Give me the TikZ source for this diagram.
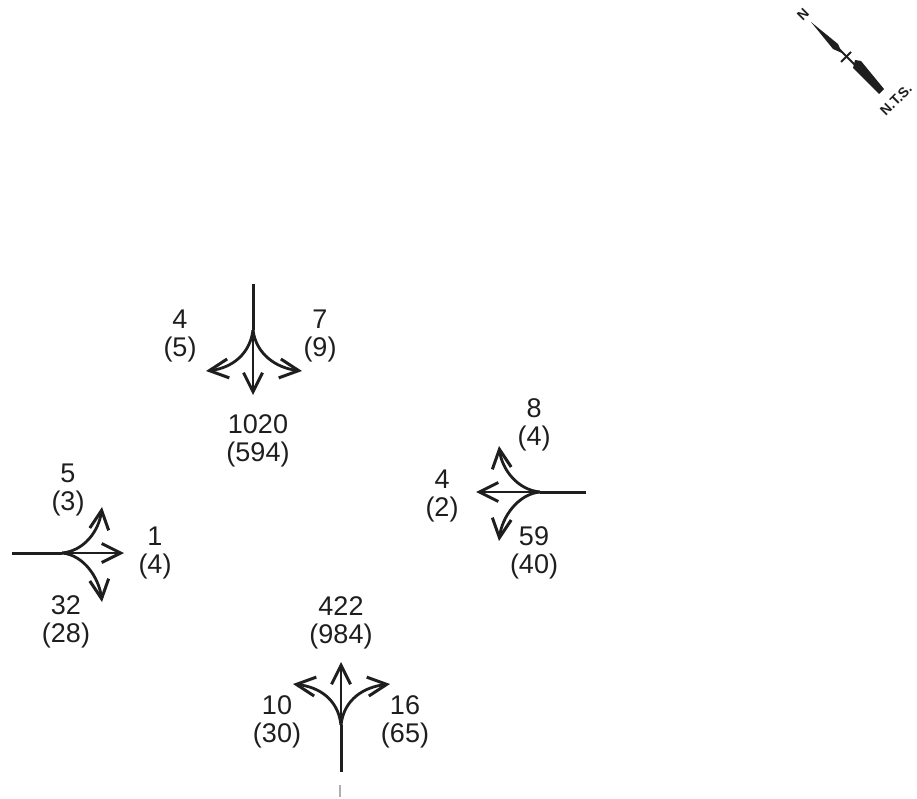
\documentclass[tikz,border=0pt]{standalone}
\usepackage{fontspec}
\setmainfont{Liberation Sans}
\usetikzlibrary{arrows.meta}
\definecolor{ink}{RGB}{30,30,30}
\definecolor{faint}{RGB}{175,175,175}

\begin{document}
\begin{tikzpicture}[x=1pt, y=-1pt,
    vol/.style={align=center, text=ink, inner sep=0pt,
                font=\fontsize{27}{28.5}\selectfont},
    stem/.style={draw=ink, line width=3pt},
    ar/.style={-{Straight Barb[length=19pt, width=19pt, line width=3pt]}, draw=ink, line width=2.8pt},
    small/.style={text=ink, inner sep=0pt, font=\fontsize{14}{15}\bfseries\selectfont, rotate=45}
]
\useasboundingbox (0,0) rectangle (917,799);

% north approach
\coordinate (nstart) at (253,284);
\coordinate (njoin) at (253,330);
\coordinate (nthru) at (253,395);
\coordinate (nleft) at (206,371);
\coordinate (nright) at (302,371);
\draw[stem] (nstart) -- (njoin);
\draw[ar] (njoin) -- (nthru);
\draw[ar] (njoin) .. controls +(-3,24) and +(26,-3) .. (nleft);
\draw[ar] (njoin) .. controls +(3,24) and +(-26,-3) .. (nright);
\node[vol] (nl) at (180,336) {4\\(5)};
\node[vol] (nr) at (320,336) {7\\(9)};
\node[vol] (nt) at (258,441) {1020\\(594)};

% east approach
\coordinate (estart) at (586,492);
\coordinate (ejoin) at (540,492);
\coordinate (ethru) at (476,492);
\coordinate (eup) at (499,446);
\coordinate (edown) at (499,541);
\draw[stem] (estart) -- (ejoin);
\draw[ar] (ejoin) -- (ethru);
\draw[ar] (ejoin) .. controls +(-22,-2) and +(3,24) .. (eup);
\draw[ar] (ejoin) .. controls +(-22,2) and +(3,-24) .. (edown);
\node[vol] (eu) at (534,425) {8\\(4)};
\node[vol] (et) at (442,496) {4\\(2)};
\node[vol] (ed) at (534,553) {59\\(40)};

% west approach
\coordinate (wstart) at (12,553);
\coordinate (wjoin) at (62,553);
\coordinate (wthru) at (124,553);
\coordinate (wup) at (102,507);
\coordinate (wdown) at (102,602);
\draw[stem] (wstart) -- (wjoin);
\draw[ar] (wjoin) -- (wthru);
\draw[ar] (wjoin) .. controls +(22,-2) and +(-3,24) .. (wup);
\draw[ar] (wjoin) .. controls +(22,2) and +(-3,-24) .. (wdown);
\node[vol] (wu) at (68,490) {5\\(3)};
\node[vol] (wt) at (155,553) {1\\(4)};
\node[vol] (wd) at (66,622) {32\\(28)};

% south approach
\coordinate (sstart) at (341,772);
\coordinate (sjoin) at (341,725);
\coordinate (sthru) at (341,662);
\coordinate (sleft) at (293,684);
\coordinate (sright) at (390,684);
\draw[stem] (sstart) -- (sjoin);
\draw[ar] (sjoin) -- (sthru);
\draw[ar] (sjoin) .. controls +(-3,-26) and +(26,3) .. (sleft);
\draw[ar] (sjoin) .. controls +(3,-26) and +(-26,3) .. (sright);
\node[vol] (st) at (341,623) {422\\(984)};
\node[vol] (sl) at (277,722) {10\\(30)};
\node[vol] (sr) at (405,722) {16\\(65)};
\coordinate (tick1) at (340,785);
\coordinate (tick2) at (340,797);
\draw[faint, line width=1.2pt] (tick1) -- (tick2);

% north mark
\fill[ink] (811,22) -- (838,44) -- (842,53) -- (833,49) -- cycle;
\fill[ink] (855,60) -- (861,61) -- (884,89) -- (879,94) -- (853,68) -- cycle;
\draw[ink, line width=1.8pt] (838,48) -- (856,66);
\draw[ink, line width=1.8pt] (841,62) -- (851,52);
\node[small] (north) at (803,15) {N};
\node[small] (nts) at (896,100) {N.T.S.};
\end{tikzpicture}
\end{document}
